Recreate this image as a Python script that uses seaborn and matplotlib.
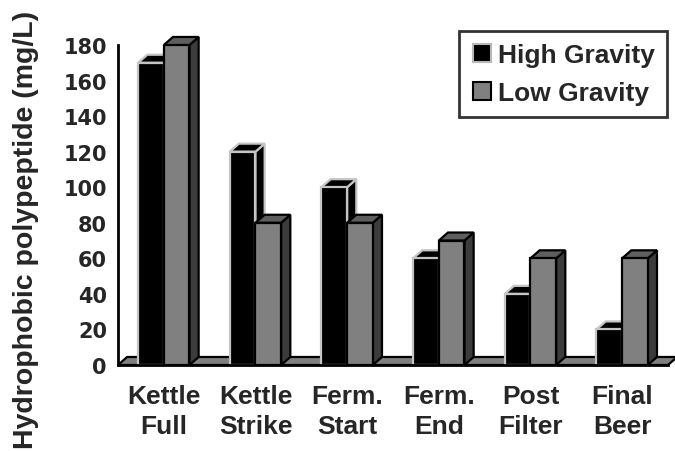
import matplotlib
matplotlib.use("Agg")
import matplotlib.pyplot as plt
import seaborn as sns
import pandas as pd
from matplotlib.patches import Polygon
from matplotlib.lines import Line2D

# Data
stages = ["Kettle\nFull", "Kettle\nStrike", "Ferm.\nStart", "Ferm.\nEnd", "Post\nFilter", "Final\nBeer"]
series = ["High Gravity", "Low Gravity"]
high_gravity = [170, 120, 100, 60, 40, 20]
low_gravity = [180, 80, 80, 70, 60, 60]
y_ticks = [0, 20, 40, 60, 80, 100, 120, 140, 160, 180]

df = pd.DataFrame({
    "stage": stages * 2,
    "series": [series[0]] * len(stages) + [series[1]] * len(stages),
    "value": high_gravity + low_gravity,
})

sns.set_style("white")
plt.rcParams["font.family"] = ["Liberation Sans", "DejaVu Sans"]
plt.rcParams["font.weight"] = "bold"

fig = plt.figure(figsize=(6.75, 4.52), dpi=100)
ax = fig.add_axes([0.1748, 0.1903, 0.8148, 0.708])

sns.barplot(data=df, x="stage", y="value", hue="series", order=stages,
            hue_order=series, palette={"High Gravity": "#000000", "Low Gravity": "#808080"},
            width=0.56, saturation=1, errorbar=None, legend=False, ax=ax)

# pseudo-3D depth of the bars and floor (data units)
dx, dy = 0.1, 4.5
styles = [
    dict(ec="#c4c4c4", top="#000000", side="#000000", z=2),
    dict(ec="#000000", top="#5e5e5e", side="#3c3c3c", z=4),
]
for cont, st in zip(ax.containers, styles):
    for bar in cont:
        x0, w, h = bar.get_x(), bar.get_width(), bar.get_height()
        bar.set_edgecolor(st["ec"])
        bar.set_linewidth(1.6)
        bar.set_zorder(st["z"])
        side = Polygon([(x0 + w, 0), (x0 + w + dx, dy), (x0 + w + dx, h + dy), (x0 + w, h)],
                       closed=True, fc=st["side"], ec=st["ec"], lw=1.6,
                       zorder=st["z"] - 0.5, clip_on=False)
        top = Polygon([(x0, h), (x0 + w, h), (x0 + w + dx, h + dy), (x0 + dx, h + dy)],
                      closed=True, fc=st["top"], ec=st["ec"], lw=1.6,
                      zorder=st["z"] - 0.4, clip_on=False, joinstyle="miter")
        ax.add_patch(side)
        ax.add_patch(top)

# floor plate
xmin, xmax = -0.5, len(stages) - 0.5
floor = Polygon([(xmin, 0), (xmax, 0), (xmax + dx, dy), (xmin + dx, dy)], closed=True,
                fc="#808080", ec="#000000", lw=1.6, zorder=1, clip_on=False)
ax.add_patch(floor)

ax.set_xlim(xmin, xmax)
ax.set_ylim(0, 180)
ax.set_yticks(y_ticks)
ax.set_yticklabels([str(v) for v in y_ticks], family=["DejaVu Sans"],
                   fontsize=15, fontweight="bold")
ax.set_xticks(range(len(stages)))
ax.set_xticklabels(stages, fontsize=19, fontweight="bold", linespacing=1.28)
ax.set_xticks([i - 0.5 for i in range(len(stages) + 1)], minor=True)
ax.tick_params(axis="x", which="major", length=0, pad=14)
ax.tick_params(axis="x", which="minor", length=6, width=2, direction="out", color="black")
ax.tick_params(axis="y", which="major", length=6, width=2, direction="out", pad=2, color="black")

for name in ["top", "right"]:
    ax.spines[name].set_visible(False)
for name in ["left", "bottom"]:
    ax.spines[name].set_linewidth(2)
    ax.spines[name].set_color("black")
    ax.spines[name].set_zorder(6)

ax.set_xlabel("")
ax.set_ylabel("Hydrophobic polypeptide (mg/L)", fontsize=20.5, fontweight="bold")
ax.yaxis.label.set_verticalalignment("center")
ax.yaxis.set_label_coords(-0.168, 0.425)

handles = [
    Line2D([], [], marker="s", ls="", markersize=13, mfc="#000000", mec="#b8b8b8", mew=1.5),
    Line2D([], [], marker="s", ls="", markersize=13, mfc="#808080", mec="#000000", mew=1.5),
]
leg = ax.legend(handles, series, loc="upper right", bbox_to_anchor=(0.988, 0.929),
                bbox_transform=fig.transFigure, frameon=True, fancybox=False,
                prop={"family": "Liberation Sans", "weight": "bold", "size": 19},
                handlelength=0.9, handletextpad=0.15, borderpad=0.45, labelspacing=0.55,
                borderaxespad=0)
leg.get_frame().set_edgecolor("black")
leg.get_frame().set_linewidth(2)
leg.set_zorder(10)

fig.savefig("out.png", dpi=100)
